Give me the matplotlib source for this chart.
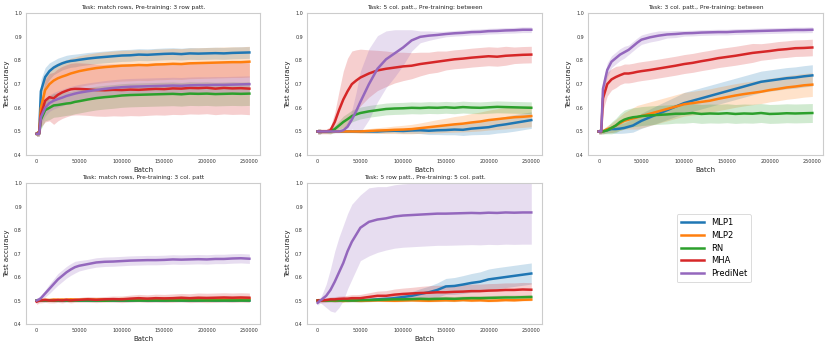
import matplotlib
matplotlib.use("Agg")
import matplotlib.pyplot as plt
import numpy as np

batches = [0, 3000, 5000, 10000, 15000, 20000, 25000, 30000, 35000, 40000, 45000, 50000,
           60000, 70000, 80000, 90000, 100000, 110000, 120000, 130000, 140000, 150000,
           160000, 170000, 180000, 190000, 200000, 210000, 220000, 230000, 240000, 250000]

models = ["MLP1", "MLP2", "RN", "MHA", "PrediNet"]
colors = ["#1f77b4", "#ff7f0e", "#2ca02c", "#d62728", "#9467bd"]

titles = [
    "Task: match rows, Pre-training: 3 row patt.",
    "Task: 5 col. patt., Pre-training: between",
    "Task: 3 col. patt., Pre-training: between",
    "Task: match rows, Pre-training: 3 col. patt",
    "Task: 5 row patt., Pre-training: 5 col. patt.",
]

# ---------- Panel 1 ----------
p1_mlp1 = [0.49, 0.50, 0.67, 0.73, 0.755, 0.77, 0.78, 0.788, 0.794, 0.798, 0.80, 0.803, 0.808, 0.812, 0.815, 0.818, 0.821, 0.822, 0.825, 0.824, 0.826, 0.828, 0.829, 0.827, 0.830, 0.829, 0.830, 0.831, 0.830, 0.832, 0.833, 0.834]
p1_mlp2 = [0.49, 0.50, 0.60, 0.675, 0.70, 0.715, 0.725, 0.732, 0.738, 0.745, 0.75, 0.755, 0.762, 0.768, 0.772, 0.775, 0.778, 0.779, 0.781, 0.780, 0.783, 0.784, 0.786, 0.785, 0.788, 0.789, 0.790, 0.791, 0.792, 0.793, 0.793, 0.795]
p1_rn = [0.49, 0.49, 0.55, 0.59, 0.60, 0.61, 0.612, 0.615, 0.618, 0.62, 0.625, 0.628, 0.635, 0.641, 0.645, 0.648, 0.652, 0.654, 0.655, 0.656, 0.657, 0.658, 0.659, 0.657, 0.660, 0.659, 0.660, 0.658, 0.659, 0.660, 0.659, 0.660]
p1_mha = [0.49, 0.49, 0.57, 0.63, 0.645, 0.64, 0.655, 0.665, 0.672, 0.678, 0.68, 0.68, 0.678, 0.675, 0.674, 0.676, 0.675, 0.677, 0.676, 0.678, 0.680, 0.679, 0.682, 0.681, 0.684, 0.683, 0.685, 0.681, 0.684, 0.682, 0.683, 0.681]
p1_pred = [0.49, 0.49, 0.56, 0.60, 0.62, 0.63, 0.637, 0.643, 0.65, 0.655, 0.66, 0.664, 0.67, 0.675, 0.68, 0.684, 0.687, 0.689, 0.690, 0.691, 0.692, 0.693, 0.694, 0.693, 0.695, 0.696, 0.696, 0.697, 0.697, 0.698, 0.699, 0.700]
p1_mlp1_sd = [0.01, 0.01, 0.05, 0.04, 0.035, 0.03, 0.03, 0.028, 0.028, 0.027, 0.027, 0.026, 0.026, 0.025, 0.025, 0.025, 0.025, 0.025, 0.025, 0.025, 0.025, 0.025, 0.025, 0.025, 0.025, 0.025, 0.025, 0.025, 0.025, 0.025, 0.025, 0.025]
p1_mlp2_sd = [0.01, 0.01, 0.06, 0.065, 0.065, 0.065, 0.065, 0.065, 0.065, 0.065, 0.065, 0.065, 0.065, 0.065, 0.065, 0.065, 0.065, 0.065, 0.065, 0.065, 0.065, 0.065, 0.065, 0.065, 0.065, 0.065, 0.065, 0.065, 0.065, 0.065, 0.065, 0.065]
p1_rn_sd = [0.01, 0.01, 0.04, 0.045, 0.05, 0.05, 0.05, 0.05, 0.05, 0.05, 0.05, 0.05, 0.05, 0.05, 0.05, 0.05, 0.05, 0.05, 0.05, 0.05, 0.05, 0.05, 0.05, 0.05, 0.05, 0.05, 0.05, 0.05, 0.05, 0.05, 0.05, 0.05]
p1_mha_sd = [0.01, 0.01, 0.05, 0.09, 0.10, 0.11, 0.11, 0.11, 0.11, 0.11, 0.11, 0.11, 0.11, 0.11, 0.11, 0.11, 0.11, 0.11, 0.11, 0.11, 0.11, 0.11, 0.11, 0.11, 0.11, 0.11, 0.11, 0.11, 0.11, 0.11, 0.11, 0.11]
p1_pred_sd = [0.01, 0.01, 0.03, 0.035, 0.035, 0.035, 0.035, 0.035, 0.035, 0.035, 0.035, 0.035, 0.035, 0.035, 0.035, 0.035, 0.035, 0.035, 0.035, 0.035, 0.035, 0.035, 0.035, 0.035, 0.035, 0.035, 0.035, 0.035, 0.035, 0.035, 0.035, 0.035]

# ---------- Panel 2 ----------
p2_mlp1 = [0.50, 0.50, 0.50, 0.50, 0.50, 0.50, 0.50, 0.50, 0.50, 0.50, 0.50, 0.50, 0.50, 0.50, 0.502, 0.503, 0.502, 0.504, 0.505, 0.503, 0.505, 0.506, 0.508, 0.507, 0.512, 0.515, 0.518, 0.525, 0.530, 0.536, 0.542, 0.548]
p2_mlp2 = [0.50, 0.50, 0.50, 0.50, 0.50, 0.50, 0.50, 0.50, 0.50, 0.50, 0.50, 0.50, 0.502, 0.504, 0.505, 0.507, 0.508, 0.510, 0.514, 0.518, 0.522, 0.526, 0.530, 0.533, 0.538, 0.542, 0.548, 0.552, 0.556, 0.560, 0.562, 0.565]
p2_rn = [0.50, 0.50, 0.50, 0.50, 0.50, 0.51, 0.525, 0.54, 0.552, 0.565, 0.572, 0.578, 0.585, 0.59, 0.595, 0.597, 0.598, 0.60, 0.599, 0.601, 0.600, 0.602, 0.600, 0.603, 0.601, 0.600, 0.602, 0.604, 0.603, 0.602, 0.601, 0.600]
p2_mha = [0.50, 0.50, 0.50, 0.50, 0.505, 0.54, 0.59, 0.635, 0.67, 0.70, 0.715, 0.728, 0.745, 0.758, 0.765, 0.77, 0.775, 0.778, 0.785, 0.79, 0.795, 0.800, 0.805, 0.808, 0.812, 0.815, 0.818, 0.816, 0.820, 0.822, 0.824, 0.825]
p2_pred = [0.50, 0.50, 0.50, 0.50, 0.50, 0.50, 0.50, 0.505, 0.52, 0.55, 0.585, 0.625, 0.70, 0.765, 0.805, 0.83, 0.855, 0.885, 0.90, 0.905, 0.908, 0.912, 0.915, 0.917, 0.92, 0.921, 0.924, 0.925, 0.927, 0.928, 0.930, 0.930]
p2_mlp1_sd = [0.01, 0.01, 0.005, 0.005, 0.005, 0.005, 0.005, 0.005, 0.005, 0.005, 0.005, 0.005, 0.006, 0.007, 0.008, 0.009, 0.01, 0.012, 0.014, 0.016, 0.018, 0.02, 0.022, 0.024, 0.026, 0.028, 0.03, 0.032, 0.034, 0.035, 0.035, 0.035]
p2_mlp2_sd = [0.01, 0.01, 0.005, 0.005, 0.005, 0.005, 0.005, 0.005, 0.005, 0.005, 0.006, 0.008, 0.01, 0.012, 0.014, 0.016, 0.018, 0.02, 0.022, 0.025, 0.028, 0.03, 0.033, 0.035, 0.038, 0.04, 0.042, 0.044, 0.045, 0.045, 0.045, 0.045]
p2_rn_sd = [0.01, 0.01, 0.008, 0.008, 0.01, 0.015, 0.02, 0.025, 0.025, 0.025, 0.025, 0.025, 0.025, 0.025, 0.025, 0.025, 0.025, 0.025, 0.025, 0.025, 0.025, 0.025, 0.025, 0.025, 0.025, 0.025, 0.025, 0.025, 0.025, 0.025, 0.025, 0.025]
p2_mha_sd = [0.01, 0.01, 0.01, 0.01, 0.015, 0.04, 0.08, 0.12, 0.14, 0.14, 0.13, 0.12, 0.10, 0.085, 0.075, 0.065, 0.06, 0.055, 0.05, 0.045, 0.045, 0.04, 0.04, 0.04, 0.04, 0.04, 0.04, 0.04, 0.04, 0.035, 0.035, 0.035]
p2_pred_sd = [0.01, 0.01, 0.005, 0.005, 0.005, 0.005, 0.005, 0.008, 0.02, 0.04, 0.08, 0.13, 0.15, 0.14, 0.12, 0.10, 0.075, 0.045, 0.025, 0.02, 0.015, 0.012, 0.012, 0.012, 0.012, 0.012, 0.012, 0.012, 0.012, 0.012, 0.012, 0.012]

# ---------- Panel 3 ----------
p3_mlp1 = [0.50, 0.50, 0.50, 0.505, 0.51, 0.51, 0.512, 0.515, 0.52, 0.525, 0.535, 0.545, 0.56, 0.575, 0.59, 0.605, 0.62, 0.63, 0.64, 0.65, 0.66, 0.67, 0.68, 0.69, 0.70, 0.71, 0.715, 0.72, 0.725, 0.728, 0.733, 0.737]
p3_mlp2 = [0.50, 0.50, 0.50, 0.51, 0.515, 0.525, 0.535, 0.545, 0.55, 0.555, 0.56, 0.565, 0.575, 0.585, 0.595, 0.605, 0.615, 0.62, 0.625, 0.63, 0.638, 0.645, 0.652, 0.658, 0.663, 0.668, 0.675, 0.68, 0.686, 0.69, 0.695, 0.698]
p3_rn = [0.50, 0.50, 0.50, 0.505, 0.515, 0.525, 0.54, 0.55, 0.556, 0.56, 0.562, 0.565, 0.568, 0.57, 0.572, 0.575, 0.575, 0.578, 0.574, 0.576, 0.575, 0.577, 0.574, 0.576, 0.575, 0.578, 0.574, 0.575, 0.577, 0.576, 0.577, 0.578]
p3_mha = [0.50, 0.50, 0.64, 0.70, 0.72, 0.73, 0.738, 0.745, 0.745, 0.748, 0.752, 0.755, 0.76, 0.766, 0.772, 0.778, 0.785, 0.79, 0.797, 0.803, 0.81, 0.815, 0.82, 0.826, 0.832, 0.836, 0.84, 0.845, 0.848, 0.852, 0.853, 0.855]
p3_pred = [0.50, 0.50, 0.68, 0.76, 0.795, 0.81, 0.825, 0.835, 0.845, 0.86, 0.875, 0.888, 0.898, 0.905, 0.91, 0.912, 0.915, 0.916, 0.918, 0.919, 0.92, 0.92, 0.922, 0.923, 0.924, 0.925, 0.926, 0.927, 0.928, 0.929, 0.929, 0.930]
p3_mlp1_sd = [0.01, 0.01, 0.01, 0.012, 0.015, 0.018, 0.02, 0.022, 0.025, 0.028, 0.03, 0.032, 0.035, 0.038, 0.04, 0.042, 0.045, 0.045, 0.045, 0.045, 0.045, 0.045, 0.045, 0.045, 0.045, 0.045, 0.045, 0.045, 0.045, 0.045, 0.045, 0.045]
p3_mlp2_sd = [0.01, 0.01, 0.01, 0.015, 0.02, 0.025, 0.03, 0.035, 0.04, 0.045, 0.05, 0.05, 0.05, 0.05, 0.05, 0.05, 0.05, 0.05, 0.05, 0.05, 0.05, 0.05, 0.05, 0.05, 0.05, 0.05, 0.05, 0.05, 0.05, 0.05, 0.05, 0.05]
p3_rn_sd = [0.01, 0.01, 0.01, 0.015, 0.025, 0.03, 0.035, 0.04, 0.04, 0.04, 0.04, 0.04, 0.04, 0.04, 0.04, 0.04, 0.04, 0.04, 0.04, 0.04, 0.04, 0.04, 0.04, 0.04, 0.04, 0.04, 0.04, 0.04, 0.04, 0.04, 0.04, 0.04]
p3_mha_sd = [0.01, 0.01, 0.05, 0.05, 0.045, 0.045, 0.04, 0.04, 0.04, 0.04, 0.04, 0.04, 0.04, 0.04, 0.04, 0.04, 0.04, 0.04, 0.04, 0.04, 0.04, 0.04, 0.04, 0.04, 0.04, 0.035, 0.035, 0.035, 0.035, 0.035, 0.035, 0.035]
p3_pred_sd = [0.01, 0.01, 0.03, 0.03, 0.025, 0.025, 0.025, 0.025, 0.02, 0.02, 0.02, 0.02, 0.02, 0.02, 0.015, 0.015, 0.012, 0.012, 0.012, 0.012, 0.012, 0.012, 0.012, 0.012, 0.012, 0.012, 0.012, 0.012, 0.012, 0.012, 0.012, 0.012]

# ---------- Panel 4 ----------
p4_mlp1 = [0.50, 0.50, 0.50, 0.50, 0.501, 0.50, 0.50, 0.499, 0.50, 0.50, 0.501, 0.50, 0.50, 0.50, 0.501, 0.50, 0.50, 0.50, 0.501, 0.50, 0.50, 0.50, 0.501, 0.50, 0.50, 0.50, 0.501, 0.50, 0.50, 0.50, 0.501, 0.50]
p4_mlp2 = [0.50, 0.50, 0.502, 0.503, 0.502, 0.504, 0.503, 0.504, 0.503, 0.505, 0.504, 0.503, 0.505, 0.504, 0.505, 0.504, 0.506, 0.505, 0.505, 0.506, 0.505, 0.507, 0.506, 0.507, 0.506, 0.507, 0.508, 0.507, 0.508, 0.508, 0.509, 0.508]
p4_rn = [0.50, 0.50, 0.50, 0.50, 0.50, 0.499, 0.50, 0.50, 0.50, 0.499, 0.50, 0.50, 0.50, 0.50, 0.499, 0.50, 0.50, 0.50, 0.50, 0.50, 0.50, 0.50, 0.50, 0.50, 0.50, 0.50, 0.50, 0.50, 0.50, 0.50, 0.50, 0.50]
p4_mha = [0.495, 0.50, 0.50, 0.502, 0.50, 0.50, 0.502, 0.50, 0.503, 0.50, 0.502, 0.503, 0.505, 0.503, 0.505, 0.506, 0.505, 0.508, 0.51, 0.508, 0.51, 0.509, 0.51, 0.512, 0.51, 0.512, 0.511, 0.512, 0.513, 0.512, 0.513, 0.512]
p4_pred = [0.50, 0.505, 0.51, 0.53, 0.55, 0.57, 0.59, 0.605, 0.62, 0.632, 0.642, 0.648, 0.655, 0.662, 0.665, 0.666, 0.668, 0.67, 0.671, 0.672, 0.672, 0.673, 0.675, 0.674, 0.675, 0.676, 0.675, 0.677, 0.677, 0.679, 0.680, 0.678]
p4_mlp1_sd = [0.005] * 32
p4_mlp2_sd = [0.006, 0.006, 0.006, 0.006, 0.006, 0.006, 0.006, 0.006, 0.006, 0.006, 0.006, 0.006, 0.007, 0.007, 0.007, 0.007, 0.008, 0.008, 0.008, 0.008, 0.009, 0.009, 0.009, 0.009, 0.01, 0.01, 0.01, 0.01, 0.01, 0.01, 0.01, 0.01]
p4_rn_sd = [0.004] * 32
p4_mha_sd = [0.012, 0.01, 0.01, 0.01, 0.01, 0.01, 0.01, 0.01, 0.01, 0.01, 0.01, 0.01, 0.012, 0.012, 0.012, 0.013, 0.014, 0.015, 0.016, 0.016, 0.017, 0.017, 0.018, 0.018, 0.019, 0.02, 0.02, 0.02, 0.02, 0.02, 0.02, 0.02]
p4_pred_sd = [0.01, 0.01, 0.012, 0.015, 0.02, 0.022, 0.025, 0.025, 0.025, 0.025, 0.025, 0.022, 0.02, 0.02, 0.02, 0.02, 0.02, 0.02, 0.02, 0.02, 0.02, 0.02, 0.02, 0.02, 0.02, 0.02, 0.02, 0.02, 0.02, 0.02, 0.02, 0.02]

# ---------- Panel 5 ----------
p5_mlp1 = [0.50, 0.50, 0.50, 0.50, 0.50, 0.50, 0.50, 0.50, 0.50, 0.50, 0.50, 0.501, 0.502, 0.505, 0.507, 0.51, 0.515, 0.52, 0.528, 0.535, 0.545, 0.56, 0.562, 0.568, 0.575, 0.58, 0.59, 0.595, 0.60, 0.605, 0.61, 0.615]
p5_mlp2 = [0.50, 0.50, 0.50, 0.501, 0.50, 0.499, 0.50, 0.498, 0.50, 0.501, 0.50, 0.499, 0.50, 0.501, 0.50, 0.499, 0.50, 0.501, 0.50, 0.499, 0.50, 0.501, 0.50, 0.502, 0.50, 0.501, 0.499, 0.50, 0.502, 0.501, 0.503, 0.504]
p5_rn = [0.50, 0.50, 0.50, 0.50, 0.50, 0.50, 0.50, 0.50, 0.50, 0.50, 0.50, 0.501, 0.502, 0.503, 0.504, 0.505, 0.505, 0.506, 0.507, 0.506, 0.507, 0.508, 0.507, 0.509, 0.51, 0.51, 0.511, 0.512, 0.513, 0.513, 0.514, 0.515]
p5_mha = [0.50, 0.50, 0.50, 0.502, 0.505, 0.505, 0.507, 0.508, 0.508, 0.51, 0.51, 0.51, 0.515, 0.52, 0.52, 0.525, 0.528, 0.53, 0.532, 0.533, 0.535, 0.535, 0.537, 0.538, 0.54, 0.54, 0.542, 0.543, 0.545, 0.545, 0.547, 0.546]
p5_pred = [0.49, 0.50, 0.505, 0.52, 0.545, 0.58, 0.62, 0.66, 0.71, 0.75, 0.78, 0.81, 0.835, 0.845, 0.85, 0.858, 0.862, 0.864, 0.866, 0.868, 0.87, 0.87, 0.871, 0.872, 0.873, 0.872, 0.874, 0.873, 0.875, 0.874, 0.875, 0.875]
p5_mlp1_sd = [0.005, 0.005, 0.005, 0.005, 0.005, 0.005, 0.005, 0.005, 0.005, 0.005, 0.005, 0.006, 0.007, 0.008, 0.01, 0.012, 0.015, 0.018, 0.022, 0.026, 0.03, 0.034, 0.036, 0.038, 0.04, 0.042, 0.044, 0.045, 0.045, 0.045, 0.045, 0.045]
p5_mlp2_sd = [0.005] * 32
p5_rn_sd = [0.005, 0.005, 0.005, 0.005, 0.005, 0.005, 0.005, 0.005, 0.005, 0.005, 0.005, 0.006, 0.006, 0.007, 0.007, 0.008, 0.008, 0.008, 0.009, 0.009, 0.01, 0.01, 0.01, 0.01, 0.01, 0.01, 0.01, 0.01, 0.01, 0.01, 0.01, 0.01]
p5_mha_sd = [0.01, 0.01, 0.01, 0.01, 0.01, 0.012, 0.012, 0.012, 0.014, 0.015, 0.015, 0.016, 0.018, 0.02, 0.022, 0.024, 0.025, 0.026, 0.028, 0.03, 0.03, 0.03, 0.03, 0.03, 0.03, 0.03, 0.03, 0.03, 0.03, 0.03, 0.03, 0.03]
p5_pred_sd = [0.01, 0.01, 0.02, 0.05, 0.09, 0.13, 0.15, 0.16, 0.16, 0.16, 0.15, 0.14, 0.145, 0.14, 0.135, 0.135, 0.135, 0.135, 0.135, 0.135, 0.135, 0.135, 0.135, 0.135, 0.135, 0.135, 0.135, 0.135, 0.135, 0.135, 0.135, 0.135]

panels = [
    ([p1_mlp1, p1_mlp2, p1_rn, p1_mha, p1_pred], [p1_mlp1_sd, p1_mlp2_sd, p1_rn_sd, p1_mha_sd, p1_pred_sd]),
    ([p2_mlp1, p2_mlp2, p2_rn, p2_mha, p2_pred], [p2_mlp1_sd, p2_mlp2_sd, p2_rn_sd, p2_mha_sd, p2_pred_sd]),
    ([p3_mlp1, p3_mlp2, p3_rn, p3_mha, p3_pred], [p3_mlp1_sd, p3_mlp2_sd, p3_rn_sd, p3_mha_sd, p3_pred_sd]),
    ([p4_mlp1, p4_mlp2, p4_rn, p4_mha, p4_pred], [p4_mlp1_sd, p4_mlp2_sd, p4_rn_sd, p4_mha_sd, p4_pred_sd]),
    ([p5_mlp1, p5_mlp2, p5_rn, p5_mha, p5_pred], [p5_mlp1_sd, p5_mlp2_sd, p5_rn_sd, p5_mha_sd, p5_pred_sd]),
]

fig = plt.figure(figsize=(8.31, 3.47), dpi=100)
positions = [
    (0.0313, 0.553, 0.2816, 0.409),
    (0.3694, 0.553, 0.2828, 0.409),
    (0.7076, 0.553, 0.2828, 0.409),
    (0.0313, 0.0663, 0.2816, 0.406),
    (0.3694, 0.0663, 0.2828, 0.406),
]

x = np.array(batches)
handles = []
for i, (pos, (means, sds)) in enumerate(zip(positions, panels)):
    ax = fig.add_axes(pos)
    for m, s, c, name in zip(means, sds, colors, models):
        m = np.array(m)
        s = np.array(s)
        ax.fill_between(x, m - s, m + s, color=c, alpha=0.22, linewidth=0)
        h, = ax.plot(x, m, color=c, lw=1.8, label=name)
        if i == 0:
            handles.append(h)
    ax.set_ylim(0.4, 1.0)
    ax.set_xlim(-12500, 262500)
    ax.set_yticks([0.4, 0.5, 0.6, 0.7, 0.8, 0.9, 1.0])
    ax.set_xticks([0, 50000, 100000, 150000, 200000, 250000])
    ax.set_xticklabels(["0", "50000", "100000", "150000", "200000", "250000"])
    ax.tick_params(length=0, labelsize=3.5, labelcolor="#333333", pad=3)
    for sp in ax.spines.values():
        sp.set_color("#cccccc")
        sp.set_linewidth(0.8)
    ax.set_title(titles[i], fontsize=4.2, color="#222222", pad=3)
    ax.set_xlabel("Batch", fontsize=5, color="#222222", labelpad=2)
    ax.set_ylabel("Test accuracy", fontsize=5, color="#222222", labelpad=3)

leg = fig.legend(handles, models, loc="center", bbox_to_anchor=(0.859, 0.285),
                 fontsize=6, frameon=True, handlelength=2.8, labelspacing=0.45,
                 borderpad=0.5)
leg.get_frame().set_edgecolor("#cccccc")
leg.get_frame().set_linewidth(0.6)

fig.savefig("out.png", dpi=100)
